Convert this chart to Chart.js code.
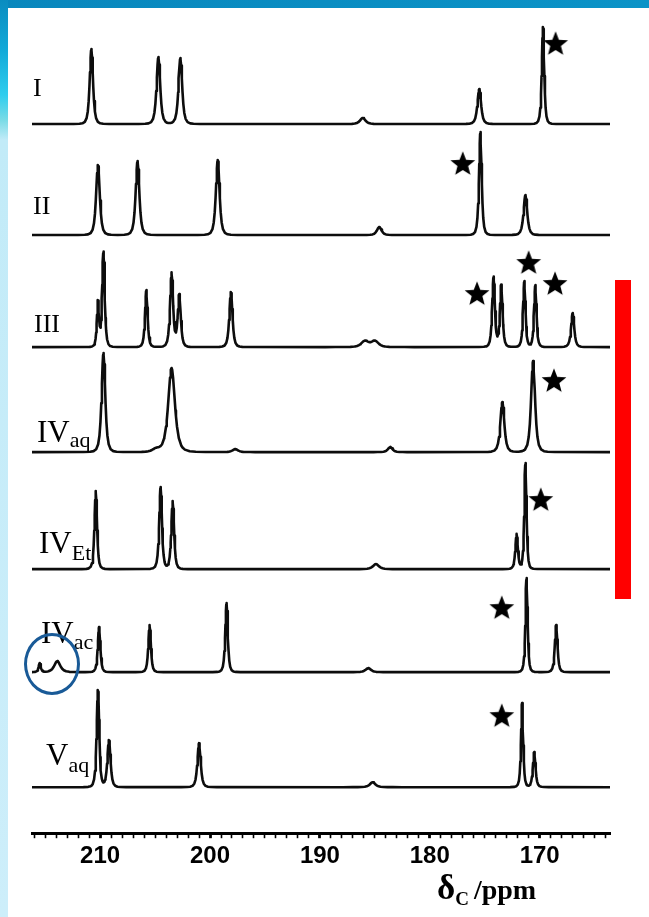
<!DOCTYPE html>
<html>
<head>
<meta charset="utf-8">
<script src="https://cdn.jsdelivr.net/npm/chart.js@4.4.1/dist/chart.umd.min.js"></script>
<style>
  html, body { margin: 0; padding: 0; width: 649px; height: 917px; overflow: hidden; background: #fff; }
  #band { position: absolute; left: 0; top: 0; width: 649px; height: 8px;
          background: linear-gradient(90deg, #0987bd, #0b93c7); }
  #edge { position: absolute; left: 0; top: 0; width: 8px; height: 917px;
          background: linear-gradient(180deg, #0a8cc0 0px, #12a9d8 50px, #2fcdee 95px, #79dbe6 120px, #c2ebf8 140px, #cdeefa 100%); }
  #plot { position: absolute; left: 0; top: 0; width: 649px; height: 917px; }
  .lab { position: absolute; font-family: "Liberation Serif", "Times New Roman", serif; color: #000;
         line-height: 1; white-space: nowrap; }
  .lab sub { font-size: 22px; vertical-align: baseline; position: relative; top: 7px; }
  #bar { position: absolute; left: 615px; top: 280px; width: 16px; height: 319px; background: #ff0000; }
  #ring { position: absolute; left: 24px; top: 633px; width: 56px; height: 62px; box-sizing: border-box;
          border: 3.5px solid #195a97; border-radius: 50%; }
  #xtitle { position: absolute; left: 437px; top: 870px; font-family: "Liberation Serif", "Times New Roman", serif;
            font-weight: bold; color: #000; line-height: 1; white-space: nowrap; }
  #xtitle .d { font-size: 35px; }
  #xtitle sub { font-size: 19px; vertical-align: baseline; position: relative; top: 6px; }
  #xtitle .u { font-size: 28px; margin-left: 5px; }
</style>
</head>
<body>
<div id="band"></div>
<div id="edge"></div>
<div id="plot"><canvas id="c"></canvas></div>

<div class="lab" style="left:33px;top:75px;font-size:26px;">I</div>
<div class="lab" style="left:33px;top:193px;font-size:26px;">II</div>
<div class="lab" style="left:34px;top:311px;font-size:26px;">III</div>
<div class="lab" style="left:37px;top:416px;font-size:31px;">IV<sub style="top:5px">aq</sub></div>
<div class="lab" style="left:39px;top:527px;font-size:31px;">IV<sub>Et</sub></div>
<div class="lab" style="left:41px;top:617px;font-size:31px;">IV<sub style="top:6px">ac</sub></div>
<div class="lab" style="left:46px;top:739px;font-size:31px;">V<sub>aq</sub></div>

<div id="bar"></div>
<div id="ring"></div>
<div id="xtitle"><span class="d">δ</span><sub>C</sub><span class="u">/ppm</span></div>

<script>
// Chemical-shift window (ppm), drawn high → low
const shiftMax = 216.2;
const shiftMin = 163.6;
const tickLabels = [210, 200, 190, 180, 170];

// Stacking level of each trace's baseline
const baseLevels = [709, 598, 486, 381, 264, 161, 46];

// I
const shiftsI  = [210.8, 204.7, 202.7, 186.1, 175.5, 169.7];
const heightsI = [75, 67, 66, 6, 35, 97];
const widthsI  = [0.27, 0.3, 0.3, 0.45, 0.3, 0.2];
// II
const shiftsII  = [210.2, 206.6, 199.3, 184.6, 175.4, 171.3];
const heightsII = [70, 74, 75, 8, 103, 40];
const widthsII  = [0.3, 0.3, 0.3, 0.38, 0.22, 0.3];
// III
const shiftsIII  = [210.2, 209.7, 205.8, 203.5, 202.8, 198.1, 185.9, 185.0, 174.2, 173.5, 171.4, 170.4, 167.0];
const heightsIII = [45, 95, 57, 74, 52, 55, 6, 6, 70, 62, 66, 62, 34];
const widthsIII  = [0.18, 0.21, 0.21, 0.25, 0.25, 0.26, 0.6, 0.6, 0.22, 0.22, 0.2, 0.2, 0.26];
// IV (aq)
const shiftsIVaq  = [209.7, 204.9, 203.5, 197.7, 183.6, 173.4, 170.6];
const heightsIVaq = [99, 3, 84, 3, 5, 50, 91];
const widthsIVaq  = [0.3, 0.6, 0.55, 0.45, 0.38, 0.33, 0.33];
// IV (Et)
const shiftsIVEt  = [210.4, 204.5, 203.4, 184.9, 172.1, 171.3];
const heightsIVEt = [78, 82, 68, 5, 35, 106];
const widthsIVEt  = [0.21, 0.23, 0.23, 0.5, 0.21, 0.18];
// IV (ac)
const shiftsIVac  = [215.5, 213.9, 210.1, 205.5, 198.5, 185.6, 171.2, 168.5];
const heightsIVac = [9, 11, 45, 47, 69, 4, 94, 47];
const widthsIVac  = [0.18, 0.5, 0.21, 0.21, 0.21, 0.45, 0.18, 0.22];
// V (aq)
const shiftsVaq  = [210.2, 209.2, 201.0, 185.2, 171.6, 170.5];
const heightsVaq = [97, 47, 44, 5, 84, 35];
const widthsVaq  = [0.22, 0.26, 0.27, 0.45, 0.18, 0.22];

// Starred resonances
const starShifts = [168.55, 177.0, 175.7, 171.0, 168.6, 168.7, 169.9, 173.45, 173.45];
const starLevels = [790, 670, 540, 571, 550, 453, 334, 226, 118];

const spectra = [
  [shiftsI, heightsI, widthsI],
  [shiftsII, heightsII, widthsII],
  [shiftsIII, heightsIII, widthsIII],
  [shiftsIVaq, heightsIVaq, widthsIVaq],
  [shiftsIVEt, heightsIVEt, widthsIVEt],
  [shiftsIVac, heightsIVac, widthsIVac],
  [shiftsVaq, heightsVaq, widthsVaq]
];

// Peak line shape (squared Lorentzian: sharp core, short skirts)
const lineShape = (x, p, h, w) => h / (1 + ((x - p) / w) ** 2) ** 2;
const sampleSteps = [-6, -4, -3, -2.2, -1.6, -1.2, -0.9, -0.65, -0.45, -0.25, -0.1, 0,
                     0.1, 0.25, 0.45, 0.65, 0.9, 1.2, 1.6, 2.2, 3, 4, 6];

function buildTrace(base, shifts, heights, widths) {
  const xs = new Set([shiftMax, shiftMin]);
  shifts.forEach((p, i) => sampleSteps.forEach(k => {
    const x = +(p + k * widths[i]).toFixed(4);
    if (x <= shiftMax && x >= shiftMin) xs.add(x);
  }));
  return [...xs].sort((a, b) => b - a).map(x => ({
    x,
    y: base + shifts.reduce((s, p, i) => s + lineShape(x, p, heights[i], widths[i]), 0)
  }));
}

// Filled five-point star used as the marker image
function starImage(R, r) {
  const size = Math.ceil(2 * R + 2);
  const cv = document.createElement('canvas');
  cv.width = size; cv.height = size;
  const g = cv.getContext('2d');
  const cx = size / 2, cy = size / 2 + R * 0.1;
  g.beginPath();
  for (let i = 0; i < 10; i++) {
    const rad = i % 2 === 0 ? R : r;
    const a = -Math.PI / 2 + i * Math.PI / 5;
    const px = cx + rad * Math.cos(a), py = cy + rad * Math.sin(a);
    i === 0 ? g.moveTo(px, py) : g.lineTo(px, py);
  }
  g.closePath();
  g.fillStyle = '#000';
  g.fill();
  return cv;
}

const datasets = spectra.map(([s, h, w], i) => ({
  type: 'line',
  data: buildTrace(baseLevels[i], s, h, w),
  borderColor: '#0d0d0d',
  borderWidth: 2.6,
  borderJoinStyle: 'round',
  pointRadius: 0,
  tension: 0,
  fill: false
}));

datasets.push({
  type: 'line',
  showLine: false,
  data: starShifts.map((x, i) => ({ x, y: starLevels[i] })),
  pointStyle: starImage(13, 5.6),
  pointRadius: 13
});

const isMajor = v => Math.abs(v - Math.round(v)) < 1e-6 && tickLabels.includes(Math.round(v));

new Chart(document.getElementById('c'), {
  type: 'line',
  data: { datasets },
  options: {
    responsive: true,
    maintainAspectRatio: false,
    animation: false,
    events: [],
    layout: { autoPadding: false, padding: { left: 32, right: 39, top: 8, bottom: 42 } },
    plugins: { legend: { display: false }, tooltip: { enabled: false } },
    scales: {
      x: {
        type: 'linear',
        min: shiftMin,
        max: shiftMax,
        reverse: true,
        border: { display: true, color: '#000', width: 3 },
        grid: {
          drawOnChartArea: false,
          drawTicks: true,
          tickLength: 5,
          tickColor: '#000',
          tickWidth: ctx => (ctx.tick && isMajor(ctx.tick.value)) ? 2.8 : 1.6
        },
        ticks: {
          stepSize: 1,
          maxTicksLimit: 80,
          autoSkip: false,
          includeBounds: false,
          maxRotation: 0,
          minRotation: 0,
          padding: 4,
          color: '#000',
          font: { family: 'Liberation Sans', weight: 'bold', size: 24 },
          callback: v => isMajor(v) ? String(Math.round(v)) : ''
        }
      },
      y: { type: 'linear', display: false, min: 0, max: 825 }
    }
  }
});
</script>
</body>
</html>
